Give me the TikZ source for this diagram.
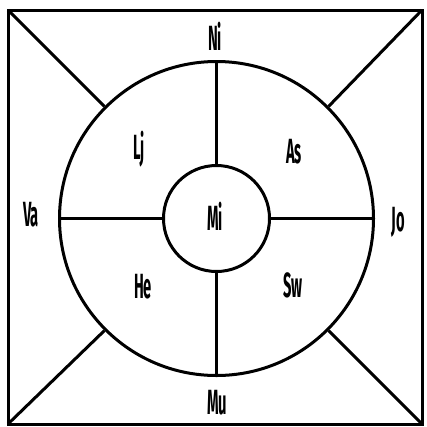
\documentclass[tikz,border=0pt]{standalone}
\usepackage{fontspec}
\newfontfamily\labfont[FakeStretch=0.42]{Fira Sans}
\begin{document}
\begin{tikzpicture}[x=1pt,y=-1pt,
  ln/.style={line width=3pt},
  ring/.style={circle,draw,line width=3pt,inner sep=0pt},
  lab/.style={font=\labfont\bfseries\fontsize{35}{35}\selectfont,inner sep=0pt,anchor=base}]
\useasboundingbox (0,0) rectangle (427,426);
\coordinate (tl) at (8,10);
\coordinate (tr) at (422,10);
\coordinate (br) at (422,424);
\coordinate (bl) at (8,424);
\draw[ln,line join=miter] (tl) -- (tr) -- (br) -- (bl) -- cycle;
\node[ring,minimum size=314pt] (O) at (216.5,218.5) {};
\node[ring,minimum size=106pt] (I) at (216.5,218.5) {};
\draw[ln] (I.north) -- (O.north);
\draw[ln] (I.south) -- (O.south);
\draw[ln] (I.west) -- (O.west);
\draw[ln] (I.east) -- (O.east);
\draw[ln] (tl) -- (O.135);
\draw[ln] (tr) -- (O.45);
\draw[ln] (bl) -- (O.225);
\draw[ln] (br) -- (O.315);
\node[lab] (ni) at (215,50) {Ni};
\node[lab] (va) at (31,226) {Va};
\node[lab] (jo) at (398,231) {Jo};
\node[lab] (mu) at (217,414) {Mu};
\node[lab] (lj) at (139,159) {Lj};
\node[lab] (as) at (294,163) {As};
\node[lab] (he) at (143,298) {He};
\node[lab] (sw) at (293,297) {Sw};
\node[lab] (mi) at (215,230) {Mi};
\end{tikzpicture}
\end{document}
